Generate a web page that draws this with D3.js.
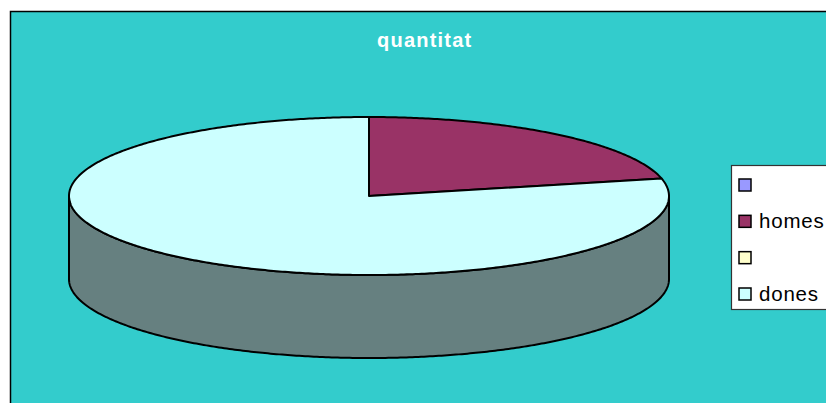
<!DOCTYPE html>
<html>
<head>
<meta charset="utf-8">
<script src="https://cdn.jsdelivr.net/npm/d3@7"></script>
<style>
  html, body { margin: 0; padding: 0; background: #ffffff; }
  svg { display: block; }
</style>
</head>
<body>
<svg id="chart" width="826" height="403"></svg>
<script>
// ---- data ----
const title = "quantitat";
const categories = ["", "homes", "", "dones"];
const values = [0, 3, 0, 11];
const colors = ["#9999FF", "#993366", "#FFFFCC", "#CCFFFF"];

// ---- layout ----
const W = 826, H = 403;
const svg = d3.select("#chart");
const font = "'Liberation Sans', Arial, sans-serif";

// chart area
svg.append("rect")
  .attr("x", 10.5).attr("y", 11.5)
  .attr("width", W + 20).attr("height", H + 20)
  .attr("fill", "#33CCCC")
  .attr("stroke", "#000").attr("stroke-width", 1.5);

// title
svg.append("text")
  .attr("x", 424.7).attr("y", 47)
  .attr("text-anchor", "middle")
  .attr("font-family", font)
  .attr("font-weight", "bold")
  .attr("font-size", 20)
  .attr("letter-spacing", 1.2)
  .attr("fill", "#ffffff")
  .text(title);

// 3D pie geometry
const cx = 369, cy = 196, rx = 300, ry = 79, depth = 83;
const sx = d3.scaleLinear().domain([-1, 1]).range([cx - rx, cx + rx]);
const sy = d3.scaleLinear().domain([-1, 1]).range([cy - ry, cy + ry]);

const pie = d3.pie().sort(null).value(d => d.v);
const arcs = pie(values.map((v, i) => ({ v, c: colors[i], name: categories[i] })));

function pt(a, dz) {
  return [sx(Math.sin(a)), sy(-Math.cos(a)) + (dz || 0)];
}
function arcPts(a0, a1, dz) {
  const n = Math.max(2, Math.ceil(Math.abs(a1 - a0) / 0.01));
  const out = [];
  for (let k = 0; k <= n; k++) out.push(pt(a0 + (a1 - a0) * k / n, dz));
  return out;
}
const line = d3.line();

function darken(c) {
  const col = d3.rgb(c);
  return d3.rgb(col.r * 0.5, col.g * 0.5, col.b * 0.5).formatHex();
}

// side walls (front half: angles between PI/2 and 3PI/2)
const g = svg.append("g");
arcs.forEach(a => {
  if (a.endAngle - a.startAngle <= 0) return;
  const s = Math.max(a.startAngle, Math.PI / 2);
  const e = Math.min(a.endAngle, 3 * Math.PI / 2);
  if (e <= s) return;
  const top = arcPts(s, e, 0);
  const bot = arcPts(e, s, depth);
  g.append("path")
    .attr("d", line(top.concat(bot)) + "Z")
    .attr("fill", darken(a.data.c))
    .attr("stroke", "#000").attr("stroke-width", 2)
    .attr("stroke-linejoin", "round");
});

// top faces
arcs.forEach(a => {
  if (a.endAngle - a.startAngle <= 0) return;
  const p = [[cx, cy]].concat(arcPts(a.startAngle, a.endAngle, 0));
  g.append("path")
    .attr("d", line(p) + "Z")
    .attr("fill", a.data.c)
    .attr("stroke", "#000").attr("stroke-width", 2)
    .attr("stroke-linejoin", "round");
});

// legend
const lg = svg.append("g");
lg.append("rect")
  .attr("x", 731.5).attr("y", 165.5)
  .attr("width", 120).attr("height", 144)
  .attr("fill", "#ffffff")
  .attr("stroke", "#333").attr("stroke-width", 1.2);

const rowY = d3.scalePoint().domain(d3.range(categories.length)).range([185, 294]);
categories.forEach((name, i) => {
  const y = rowY(i);
  lg.append("rect")
    .attr("x", 739).attr("y", y - 6)
    .attr("width", 12).attr("height", 12)
    .attr("fill", colors[i])
    .attr("stroke", "#000").attr("stroke-width", 1.5);
  lg.append("text")
    .attr("x", 759).attr("y", y + 6.5)
    .attr("font-family", font)
    .attr("font-size", 20.5)
    .attr("letter-spacing", 0.8)
    .attr("fill", "#000")
    .text(name);
});
</script>
</body>
</html>
